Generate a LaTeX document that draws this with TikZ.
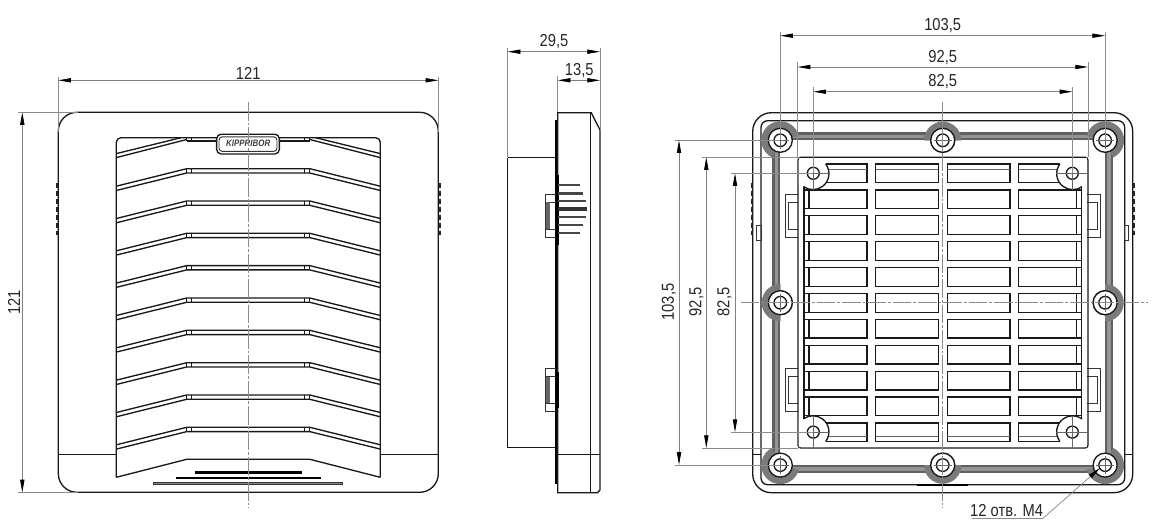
\documentclass[tikz,border=0pt]{standalone}
\usepackage{fontspec}
\setmainfont[FakeStretch=0.85]{Liberation Sans}
\usetikzlibrary{arrows.meta}
\tikzset{
    outline/.style={draw=black!90,line width=1pt},
    thinline/.style={draw=black!80,line width=0.7pt},
    dimline/.style={draw=black!50,line width=0.55pt,{Triangle[length=9.5pt,width=3.2pt,black]}-{Triangle[length=9.5pt,width=3.2pt,black]}},
    extline/.style={draw=black!45,line width=0.55pt},
    axisline/.style={draw=black!45,line width=0.5pt,dash pattern=on 14pt off 1.5pt on 2pt off 1.5pt},
    crossline/.style={draw=black!60,line width=0.4pt},
    dimtext/.style={font=\fontsize{13}{15}\selectfont,text=black!85,inner sep=0pt},
    halo/.style={fill=black!52},
    band/.style={draw=black!62,line width=6pt},
    bandcore/.style={draw=black!42,line width=2.6pt},
    heavybar/.style={draw=black,line width=1.8pt},
    ribmark/.style={draw=black!85,line width=1.4pt},
    finline/.style={draw=black!72,line width=1.8pt},
    logotext/.style={font=\fontsize{7}{8}\selectfont\bfseries\itshape,text=black!75,inner sep=0pt}
}
\begin{document}
\begin{tikzpicture}[x=0.75pt,y=-0.75pt]
    \useasboundingbox (0,0) rectangle (1155,528);

    % Front view
    \draw[outline,rounded corners=14pt] (58.3,112.3) rectangle (438.3,492.3);
    \draw[outline,rounded corners=3.5pt] (116.3,477.3) |- (380.3,137.7) -- (380.3,477.3);
    \draw[outline] (116.3,477.3) -- (186.7,459.3) -- (309.8,459.3) -- (380.3,477.3);
    \draw[outline] (58.3,454.7) -- (116.3,454.7);
    \draw[outline] (380.3,454.7) -- (438.3,454.7);

    \foreach \y in {168.7,201,233.3,265.6,298,330.3,362.7,395,427.3}{
        \draw[outline] (116.3,\y+17.5) -- (186.7,\y) -- (309.8,\y) -- (380.3,\y+17.5);
        \draw[outline] (116.3,\y+21.8) -- (186.7,\y+4.3) -- (309.8,\y+4.3) -- (380.3,\y+21.8);
        \foreach \x in {186.7,191.7,304.6,309.8}{
            \draw[outline] (\x,\y) -- (\x,\y+4.3);
        }
    }
    % Top slat runs into the window edge
    \draw[outline] (116.3,153.6) -- (181,137.7);
    \draw[outline] (116.3,157.6) -- (186.7,139.5);
    \draw[outline] (380.3,153.6) -- (315.5,137.7);
    \draw[outline] (380.3,157.6) -- (309.8,139.5);
    \foreach \x in {186.7,191.7,304.6,309.8}{
        \draw[outline] (\x,137.7) -- (\x,141);
    }
    \draw[outline] (186.7,141) -- (216.6,141);
    \draw[outline] (309.8,141) -- (279.4,141);

    % Logo plate
    \draw[outline,fill=white,rounded corners=3.5pt] (216.6,134.2) rectangle (279.4,154);
    \draw[thinline,rounded corners=2.5pt] (219,136.8) rectangle (277,151.4);
    \node[logotext] (logo) at (248.2,143.3) {KIPPRIBOR};

    % Bottom bars
    \draw[heavybar] (194.5,472.3) -- (302,472.3);
    \draw[heavybar] (175.5,477.8) -- (321,477.8);
    \draw[thinline,fill=black!45] (153.7,482.3) rectangle (342.6,484.8);

    % Side ribs
    \foreach \y in {185.5,193.5,201.5,209.5,217.5,225.5,233}{
        \draw[ribmark] (57,\y-2.4) -- (57,\y+2.4);
        \draw[ribmark] (439.6,\y-2.4) -- (439.6,\y+2.4);
    }

    \draw[axisline] (248.2,102) -- (248.2,508);
    \draw[extline] (58.3,76.7) -- (58.3,132);
    \draw[extline] (438.3,76.7) -- (438.3,132);
    \draw[extline] (18,112.3) -- (78,112.3);
    \draw[extline] (18,492.3) -- (78,492.3);
    \draw[dimline] (58.3,80.3) -- (438.3,80.3);
    \draw[dimline] (22.3,112.3) -- (22.3,492.3);
    \node[dimtext] (widthtext) at (248.2,73) {121};
    \node[dimtext,rotate=90] (heighttext) at (14,302.5) {121};

    % Side view
    \draw[outline] (557.8,112.7) -- (591.3,112.7) -- (600,130) -- (600,490) -- (597.5,492.7) -- (557.8,492.7) -- cycle;
    \draw[outline] (590.7,112.7) -- (590.7,492.7);
    \draw[outline] (557.8,454.4) -- (600,454.4);
    \draw[outline] (507.7,157.7) -- (556,157.7);
    \draw[outline] (507.7,157.7) -- (507.7,447.7) -- (556,447.7);
    \draw[draw=black,line width=1.6pt] (556.3,120) -- (556.3,484);
    \draw[draw=black,line width=2.4pt] (557.4,175) -- (557.4,245);
    \draw[draw=black,line width=2.4pt] (557.4,372) -- (557.4,408);

    \draw[thinline] (556,194) -- (545,194) -- (545,237.3) -- (556,237.3);
    \draw[thinline] (556,202.3) -- (546,202.3) -- (546,229.3) -- (556,229.3);
    \fill[black!60] (546,202.3) rectangle (549.7,229.3);
    \draw[thinline] (556,368.7) -- (545,368.7) -- (545,411.3) -- (556,411.3);
    \draw[thinline] (556,376.7) -- (546,376.7) -- (546,403.3) -- (556,403.3);
    \fill[black!60] (546,376.7) rectangle (549.7,403.3);

    \foreach \y/\x in {185/580,193.3/582.7,201/585.7,216.7/585.7,225/582.7,232.7/580}{
        \draw[finline] (558,\y) -- (\x,\y);
    }
    \draw[draw=black!80,line width=2.9pt] (558,208.8) -- (586.7,208.8);

    \draw[extline] (507.7,48) -- (507.7,157);
    \draw[extline] (557.8,76) -- (557.8,112);
    \draw[extline] (600,48) -- (600,130);
    \draw[dimline] (507.7,51.7) -- (600,51.7);
    \draw[dimline] (557.8,80.3) -- (600,80.3);
    \node[dimtext] (depthtext) at (554,41.7) {29,5};
    \node[dimtext] (flangetext) at (579.3,70.7) {13,5};

    % Rear view
    \draw[outline,rounded corners=14pt] (752.7,112.7) rectangle (1132.7,492.7);
    \draw[outline,rounded corners=5pt] (761,120.7) rectangle (1124.7,484.7);
    \draw[band] (776.3,136.3) rectangle (1109.1,469.1);
    \draw[bandcore] (776.3,136.3) rectangle (1109.1,469.1);
    \draw[outline] (752.7,454.7) -- (761,454.7);
    \draw[outline] (1124.7,454.7) -- (1132.7,454.7);
    \draw[heavybar] (917.3,485) -- (968.3,485);

    \foreach \sx in {1,-1}{
        \begin{scope}[shift={(942.7,302.7)},xscale=\sx]
            % Side lug and ribs
            \draw[thinline] (-186,-77.7) rectangle (-181.7,-62.7);
            \foreach \y in {-117.2,-109.2,-101.2,-93.2,-85.2,-77.2,-69.7}{
                \draw[ribmark] (-191,\y-2.4) -- (-191,\y+2.4);
            }
        \end{scope}
        \foreach \sy in {1,-1}{
            \begin{scope}[shift={(942.7,302.7)},xscale=\sx,yscale=\sy]
                % Screw seats
                \fill[halo] (-162.4,-162.4) -- ++(-13:19) arc[start angle=-13,end angle=-245,radius=19] -- cycle;
                \fill[halo] (0,-162.4) -- ++(0:18.5) arc[start angle=0,end angle=-180,radius=18.5] -- cycle;
                \fill[halo] (-162.4,0) -- ++(90:18.5) arc[start angle=90,end angle=270,radius=18.5] -- cycle;
                \foreach \cx/\cy in {-162.4/-162.4,0/-162.4,-162.4/0}{
                    \draw[outline,fill=white] (\cx,\cy) circle[radius=12];
                    \draw[outline] (\cx,\cy) circle[radius=6.3];
                    \draw[crossline] (\cx-9,\cy) -- (\cx+9,\cy);
                    \draw[crossline] (\cx,\cy-9) -- (\cx,\cy+9);
                }
                % Clips
                \draw[thinline] (-144.7,-108.7) -- (-157.7,-108.7) -- (-157.7,-65.4) -- (-144.7,-65.4);
                \draw[thinline] (-144.7,-100.4) -- (-154.4,-100.4) -- (-154.4,-73.7) -- (-144.7,-73.7);
            \end{scope}
        }
    }

    % Grille panel
    \draw[outline,rounded corners=2.2pt] (798,157.3) rectangle (1088,448);
    \foreach \y in {164,189.9,215.8,241.7,267.6,293.5,319.4,345.3,371.2,397.1,423}{
        \draw[outline] (804,\y) -- (867,\y) -- (867,\y+18.7) -- (804,\y+18.7);
        \draw[outline] (809,\y) -- (809,\y+18.7);
        \draw[outline] (875.7,\y) rectangle (938.3,\y+18.7);
        \draw[outline] (947.3,\y) rectangle (1010,\y+18.7);
        \draw[outline] (1081.7,\y) -- (1018.7,\y) -- (1018.7,\y+18.7) -- (1081.7,\y+18.7);
        \draw[outline] (1076.7,\y) -- (1076.7,\y+18.7);
    }
    \draw[outline] (804,186) -- (804,420);
    \draw[outline] (1081.7,186) -- (1081.7,420);
    \foreach \x/\xx in {809/867,875.7/938.3,947.3/1010,1018.7/1076.7}{
        \draw[crossline] (\x,169.3) -- (\xx,169.3);
        \draw[crossline] (\x,436.2) -- (\xx,436.2);
    }

    % Corner lugs of the grille
    \foreach \sx in {1,-1}{
        \foreach \sy in {1,-1}{
            \begin{scope}[shift={(942.8,302.7)},xscale=\sx,yscale=\sy]
                \fill[white] (-117.1,-138.7) arc[start angle=-37,end angle=126,radius=16] -- (-144,-116.7) -- (-144,-144.5) -- (-117.1,-144.5) -- cycle;
                \draw[outline] (-117.1,-138.7) arc[start angle=-37,end angle=126,radius=16];
                \draw[outline,fill=white] (-129.5,-129.4) circle[radius=6];
                \draw[crossline] (-146,-129.4) -- (-113,-129.4);
                \draw[crossline] (-129.5,-146) -- (-129.5,-113);
            \end{scope}
        }
    }

    % Rear view dimensions
    \draw[axisline] (942.7,102) -- (942.7,508);
    \draw[axisline] (740.7,302.7) -- (1148.3,302.7);
    \foreach \x/\ya/\yb in {780.3/31.7/140,1105.1/31.7/140,797.7/62.5/157,1088/62.5/157,813.3/87/173,1072.3/87/173}{
        \draw[extline] (\x,\ya) -- (\x,\yb);
    }
    \foreach \y/\xa/\xb in {140.3/675/780,464.9/675/780,157.3/702.3/798,448/702.3/798,173.3/730.7/813,432.1/730.7/813}{
        \draw[extline] (\xa,\y) -- (\xb,\y);
    }
    \draw[dimline] (780.3,35.7) -- (1105.1,35.7);
    \draw[dimline] (797.7,67) -- (1088,67);
    \draw[dimline] (813.3,91.7) -- (1072.3,91.7);
    \draw[dimline] (679,140.3) -- (679,464.9);
    \draw[dimline] (706.3,157.3) -- (706.3,448);
    \draw[dimline] (735,173.3) -- (735,432.1);
    \node[dimtext] (wholewidth) at (942.7,26) {103,5};
    \node[dimtext] (midwidth) at (942.7,57.5) {92,5};
    \node[dimtext] (holewidth) at (942.7,82) {82,5};
    \node[dimtext,rotate=90] (wholeheight) at (669,302) {103,5};
    \node[dimtext,rotate=90] (midheight) at (696.5,302) {92,5};
    \node[dimtext,rotate=90] (holeheight) at (724.5,302) {82,5};

    % Hole note
    \node[dimtext] (holenote) at (1006.7,511) {12 отв. М4};
    \coordinate (noteend) at (1043,518.3);
    \coordinate (screwtip) at (1100,468);
    \draw[extline] (971.7,518.3) -- (noteend);
    \draw[draw=black!50,line width=0.5pt,-{Triangle[length=9.5pt,width=3.2pt,black]}] (noteend) -- (screwtip);
\end{tikzpicture}
\end{document}
